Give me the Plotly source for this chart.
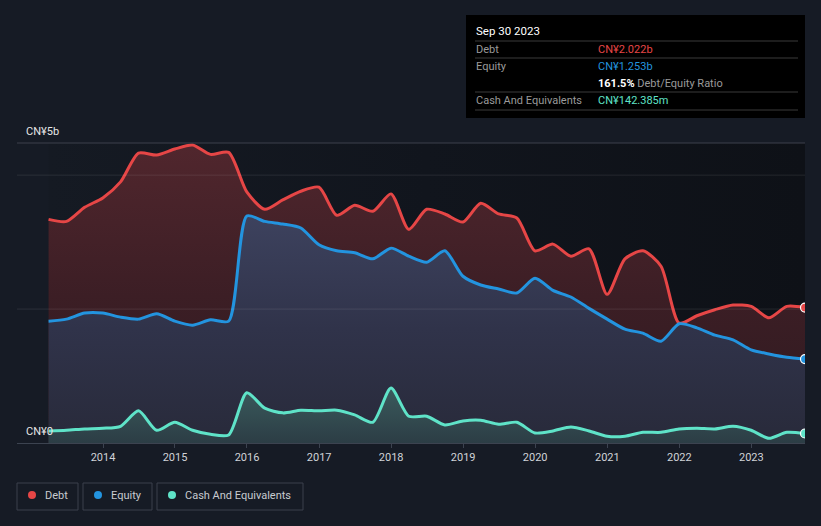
import plotly.graph_objects as go
import pandas as pd

# ---- data (CN¥ billions), quarterly from Mar 2013 to Sep 2023 ----
dates = pd.date_range("2013-03-31", periods=43, freq="QE")

debt = [3.34, 3.31, 3.52, 3.66, 3.90, 4.33, 4.30, 4.39, 4.45, 4.31, 4.34,
        3.75, 3.49, 3.63, 3.76, 3.82, 3.40, 3.55, 3.46, 3.72, 3.19, 3.49,
        3.42, 3.30, 3.58, 3.42, 3.36, 2.87, 2.97, 2.79, 2.90, 2.22, 2.75,
        2.87, 2.64, 1.79, 1.90, 1.99, 2.06, 2.04, 1.87, 2.04, 2.022]

equity = [1.82, 1.85, 1.94, 1.94, 1.88, 1.85, 1.93, 1.82, 1.76, 1.84, 1.82,
          3.39, 3.31, 3.27, 3.21, 2.96, 2.87, 2.84, 2.75, 2.91, 2.79, 2.70,
          2.87, 2.49, 2.36, 2.30, 2.24, 2.46, 2.28, 2.18, 2.01, 1.85, 1.70,
          1.64, 1.52, 1.78, 1.72, 1.61, 1.54, 1.39, 1.33, 1.28, 1.253]

cash = [0.18, 0.19, 0.21, 0.22, 0.25, 0.48, 0.19, 0.31, 0.19, 0.13, 0.12,
        0.75, 0.52, 0.45, 0.49, 0.48, 0.49, 0.42, 0.31, 0.82, 0.40, 0.40,
        0.27, 0.33, 0.34, 0.28, 0.31, 0.15, 0.18, 0.24, 0.18, 0.10, 0.10,
        0.16, 0.16, 0.21, 0.22, 0.21, 0.25, 0.19, 0.07, 0.16, 0.142]

grid_vals = [2, 4]
y_max = 4.48
x_start = "2012-10-22"
tick_years = list(range(2014, 2024))

RED = "#e64646"
BLUE = "#2394df"
TEAL = "#5fe3c8"
PAPER = "#161b25"

# pixel helpers (plot area: x 17..805, y 143..443)
L, R, T, B = 17, 805, 143, 443
W, H = R - L, B - T


def px(x):
    return (x - L) / W


def py(y):
    return (B - y) / H


fig = go.Figure()

# darkening background behind the data span
fig.add_trace(go.Scatter(
    x=[dates[0], dates[-1], dates[-1], dates[0], dates[0]],
    y=[0, 0, y_max, y_max, 0],
    mode="lines", line=dict(width=0), fill="toself",
    fillgradient=dict(type="horizontal",
                      colorscale=[[0, "#151a23"], [0.5, "#11151d"], [1, "#0e1117"]]),
    hoverinfo="skip", showlegend=False))

fig.add_trace(go.Scatter(
    x=dates, y=debt, mode="lines", name="Debt",
    line=dict(color=RED, width=3, shape="spline", smoothing=0.7),
    fill="tozeroy",
    fillgradient=dict(type="vertical", start=0, stop=4.4,
                      colorscale=[[0, "#2e1a20"], [0.5, "#3c1e25"], [1, "#50262d"]]),
    showlegend=False, hoverinfo="skip"))

fig.add_trace(go.Scatter(
    x=dates, y=equity, mode="lines", name="Equity",
    line=dict(color=BLUE, width=3, shape="spline", smoothing=0.7),
    fill="tozeroy",
    fillgradient=dict(type="vertical", start=0, stop=3.4,
                      colorscale=[[0, "#282a3a"], [0.5, "#30334a"], [1, "#3d425e"]]),
    showlegend=False, hoverinfo="skip"))

fig.add_trace(go.Scatter(
    x=dates, y=cash, mode="lines", name="Cash And Equivalents",
    line=dict(color=TEAL, width=3, shape="spline", smoothing=0.7),
    fill="tozeroy",
    fillgradient=dict(type="vertical", start=0, stop=0.8,
                      colorscale=[[0, "#2c3d45"], [1, "#3a5a5c"]]),
    showlegend=False, hoverinfo="skip"))

# end markers
fig.add_trace(go.Scatter(
    x=[dates[-1]] * 3, y=[debt[-1], equity[-1], cash[-1]], mode="markers",
    marker=dict(size=9, color=[RED, BLUE, TEAL], line=dict(color="#ffffff", width=1.2)),
    showlegend=False, hoverinfo="skip"))

shapes = []
# gridlines above fills
for g in grid_vals:
    shapes.append(dict(type="line", xref="paper", yref="y", x0=0, x1=1, y0=g, y1=g,
                       line=dict(color="rgba(255,255,255,0.09)", width=1), layer="above"))
shapes.append(dict(type="line", xref="paper", yref="paper", x0=0, x1=1, y0=1, y1=1,
                   line=dict(color="#3c414c", width=1), layer="above"))

# tooltip box
shapes.append(dict(type="rect", xref="paper", yref="paper",
                   x0=px(466), x1=px(805), y0=py(118), y1=py(15),
                   fillcolor="#000000", line=dict(width=0), layer="above"))
for ly in [41, 58, 92, 110]:
    shapes.append(dict(type="line", xref="paper", yref="paper",
                       x0=px(475), x1=px(798), y0=py(ly), y1=py(ly),
                       line=dict(color="#3a3a3a", width=1), layer="above"))

# legend boxes
legend_items = [("Debt", RED, 17, 78), ("Equity", BLUE, 83, 152),
                ("Cash And Equivalents", TEAL, 157, 303)]
annotations = []
for name, col, x0, x1 in legend_items:
    shapes.append(dict(type="rect", xref="paper", yref="paper",
                       x0=px(x0), x1=px(x1), y0=py(510), y1=py(483),
                       line=dict(color="#3a404c", width=1), fillcolor="rgba(0,0,0,0)"))
    cx = x0 + 15
    shapes.append(dict(type="circle", xref="paper", yref="paper",
                       x0=px(cx - 4), x1=px(cx + 4), y0=py(499), y1=py(491),
                       fillcolor=col, line=dict(width=0)))
    annotations.append(dict(xref="paper", yref="paper", x=px(cx + 11), y=py(495),
                            text=name, showarrow=False, xanchor="left", yanchor="middle",
                            font=dict(color="#c8cbd0", size=11, family="Roboto")))

# y labels
annotations.append(dict(xref="paper", yref="paper", x=px(24), y=py(131), text="CN¥5b",
                        showarrow=False, xanchor="left", yanchor="middle",
                        font=dict(color="#e6e6e6", size=11, family="Roboto")))
annotations.append(dict(xref="paper", yref="paper", x=px(24), y=py(431), text="CN¥0",
                        showarrow=False, xanchor="left", yanchor="middle",
                        font=dict(color="#e6e6e6", size=11, family="Roboto")))

# tooltip text
tip_font = "Roboto"
annotations += [
    dict(xref="paper", yref="paper", x=px(474), y=py(31), text="Sep 30 2023",
         showarrow=False, xanchor="left", yanchor="middle",
         font=dict(color="#ffffff", size=11.5, family=tip_font)),
    dict(xref="paper", yref="paper", x=px(474), y=py(49), text="Debt",
         showarrow=False, xanchor="left", yanchor="middle",
         font=dict(color="#9a9a9a", size=11, family=tip_font)),
    dict(xref="paper", yref="paper", x=px(596), y=py(49), text="CN¥2.022b",
         showarrow=False, xanchor="left", yanchor="middle",
         font=dict(color=RED, size=11, family=tip_font)),
    dict(xref="paper", yref="paper", x=px(474), y=py(66), text="Equity",
         showarrow=False, xanchor="left", yanchor="middle",
         font=dict(color="#9a9a9a", size=11, family=tip_font)),
    dict(xref="paper", yref="paper", x=px(596), y=py(66), text="CN¥1.253b",
         showarrow=False, xanchor="left", yanchor="middle",
         font=dict(color=BLUE, size=11, family=tip_font)),
    dict(xref="paper", yref="paper", x=px(596), y=py(83),
         text="<b>161.5%</b> <span style='color:#9a9a9a'>Debt/Equity Ratio</span>",
         showarrow=False, xanchor="left", yanchor="middle",
         font=dict(color="#ffffff", size=11, family=tip_font)),
    dict(xref="paper", yref="paper", x=px(474), y=py(100), text="Cash And Equivalents",
         showarrow=False, xanchor="left", yanchor="middle",
         font=dict(color="#9a9a9a", size=11, family=tip_font)),
    dict(xref="paper", yref="paper", x=px(596), y=py(100), text="CN¥142.385m",
         showarrow=False, xanchor="left", yanchor="middle",
         font=dict(color=TEAL, size=11, family=tip_font)),
]

fig.update_layout(
    width=821, height=526,
    margin=dict(l=L, r=821 - R, t=T, b=526 - B),
    paper_bgcolor=PAPER, plot_bgcolor=PAPER,
    showlegend=False,
    shapes=shapes, annotations=annotations,
    xaxis=dict(type="date", range=[x_start, dates[-1]],
               tickvals=[f"{y}-01-01" for y in tick_years],
               ticktext=[str(y) for y in tick_years],
               showgrid=False, zeroline=False,
               showline=True, linecolor="#3c4350", linewidth=1,
               ticks="outside", ticklen=4, tickcolor="#3c4350",
               tickfont=dict(color="#d0d3d8", size=11, family="Roboto")),
    yaxis=dict(range=[0, y_max], showgrid=False, zeroline=False,
               showticklabels=False, showline=False),
)

fig.write_html(
    "out.html",
    config={"displayModeBar": False},
    post_script="document.body.style.margin='0';document.body.style.overflow='hidden';"
                "document.body.style.background='" + PAPER + "';",
)
